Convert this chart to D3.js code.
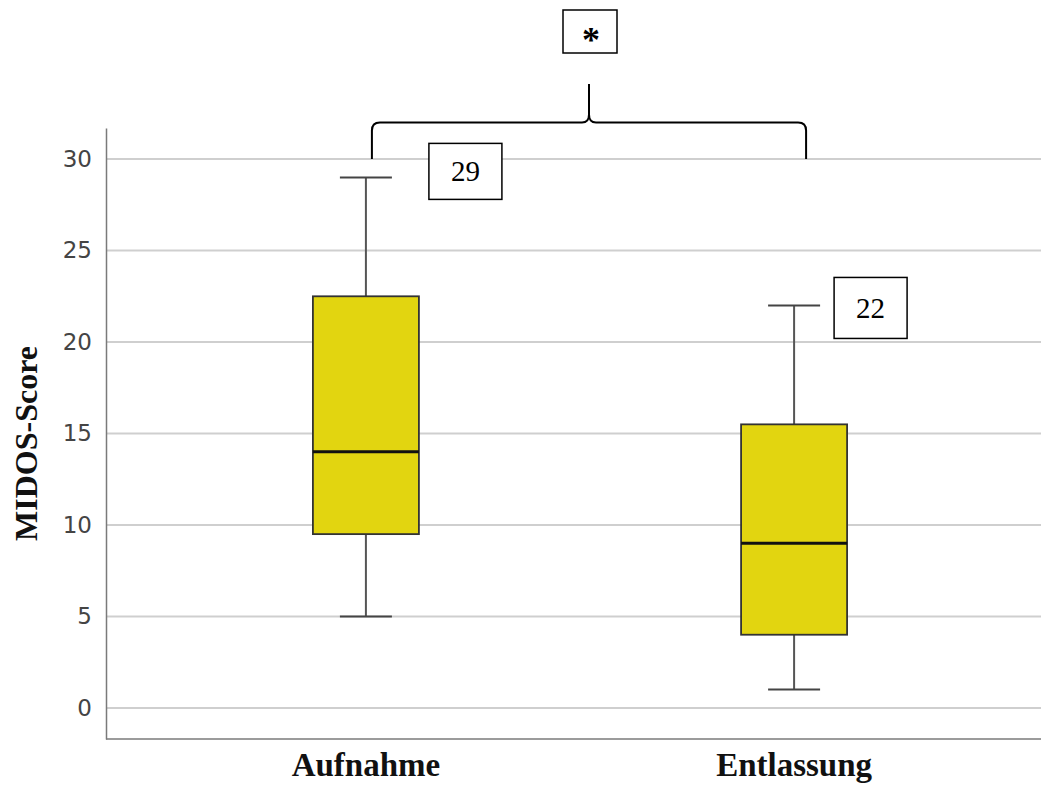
<!DOCTYPE html>
<html>
<head>
<meta charset="utf-8">
<script src="https://cdn.jsdelivr.net/npm/d3@7"></script>
<style>
  html, body { margin: 0; padding: 0; background: #fff; }
  svg { display: block; }
</style>
</head>
<body>
<svg id="chart" width="1041" height="785"></svg>
<script>
// Groups and their five-number summaries (MIDOS-Score)
const groups = ["Aufnahme", "Entlassung"];
const whiskerLow  = [5, 1];
const q1          = [9.5, 4];
const medians     = [14, 9];
const q3          = [22.5, 15.5];
const whiskerHigh = [29, 22];
const yTicks = [0, 5, 10, 15, 20, 25, 30];
const maxLabels = ["29", "22"];
const significance = "*";

const svg = d3.select("#chart");
const plot = { left: 106, right: 1041, top: 128, bottom: 739 };

const x = d3.scalePoint()
  .domain(groups)
  .range([plot.left + 3, plot.right + 10])
  .padding(0.6);

const y = d3.scaleLinear()
  .domain([-1.7, 31.7])
  .range([plot.bottom, plot.top]);

// Horizontal gridlines
svg.append("g")
  .selectAll("line")
  .data(yTicks)
  .join("line")
  .attr("x1", plot.left)
  .attr("x2", plot.right)
  .attr("y1", d => y(d))
  .attr("y2", d => y(d))
  .attr("stroke", "#cfcfcf")
  .attr("stroke-width", 2);

// Y axis
const yAxis = svg.append("g")
  .attr("transform", `translate(${plot.left},0)`)
  .call(d3.axisLeft(y).tickValues(yTicks).tickSize(0).tickPadding(14));
yAxis.select(".domain").attr("stroke", "#7a7a7a").attr("stroke-width", 1.5);
yAxis.selectAll("text")
  .attr("font-family", "'DejaVu Sans', Verdana, sans-serif")
  .attr("font-size", 23)
  .attr("fill", "#444");

// X axis line
svg.append("line")
  .attr("x1", plot.left).attr("x2", plot.right)
  .attr("y1", plot.bottom).attr("y2", plot.bottom)
  .attr("stroke", "#7a7a7a").attr("stroke-width", 1.5);

// Category labels
svg.append("g")
  .selectAll("text")
  .data(groups)
  .join("text")
  .attr("x", d => x(d))
  .attr("y", 776)
  .attr("text-anchor", "middle")
  .attr("font-family", "'Liberation Serif', 'Times New Roman', serif")
  .attr("font-weight", "bold")
  .attr("font-size", 33)
  .attr("fill", "#111")
  .text(d => d);

// Y axis title
svg.append("text")
  .attr("transform", `translate(37,${(346 + 541) / 2}) rotate(-90)`)
  .attr("text-anchor", "middle")
  .attr("font-family", "'Liberation Serif', 'Times New Roman', serif")
  .attr("font-weight", "bold")
  .attr("font-size", 32)
  .attr("fill", "#111")
  .text("MIDOS-Score");

// Box plots
const boxW = 106, capW = 52;
const stats = groups.map((g, i) => ({
  g, lo: whiskerLow[i], q1: q1[i], med: medians[i], q3: q3[i], hi: whiskerHigh[i]
}));

const bp = svg.append("g").selectAll("g").data(stats).join("g");

// whisker stems
bp.append("line")
  .attr("x1", d => x(d.g)).attr("x2", d => x(d.g))
  .attr("y1", d => y(d.hi)).attr("y2", d => y(d.q3))
  .attr("stroke", "#555").attr("stroke-width", 2);
bp.append("line")
  .attr("x1", d => x(d.g)).attr("x2", d => x(d.g))
  .attr("y1", d => y(d.q1)).attr("y2", d => y(d.lo))
  .attr("stroke", "#555").attr("stroke-width", 2);
// whisker caps
bp.selectAll(".cap")
  .data(d => [{g: d.g, v: d.hi}, {g: d.g, v: d.lo}])
  .join("line")
  .attr("class", "cap")
  .attr("x1", d => x(d.g) - capW / 2).attr("x2", d => x(d.g) + capW / 2)
  .attr("y1", d => y(d.v)).attr("y2", d => y(d.v))
  .attr("stroke", "#444").attr("stroke-width", 2);
// boxes
bp.append("rect")
  .attr("x", d => x(d.g) - boxW / 2)
  .attr("width", boxW)
  .attr("y", d => y(d.q3))
  .attr("height", d => y(d.q1) - y(d.q3))
  .attr("fill", "#e2d510")
  .attr("stroke", "#333")
  .attr("stroke-width", 1.8);
// medians
bp.append("line")
  .attr("x1", d => x(d.g) - boxW / 2).attr("x2", d => x(d.g) + boxW / 2)
  .attr("y1", d => y(d.med)).attr("y2", d => y(d.med))
  .attr("stroke", "#111").attr("stroke-width", 3);

// Maximum value call-outs
const calloutDx = [63, 40];
const calloutDy = [-34, -28];
const calloutW = [73, 73], calloutH = [56, 61];
const callouts = svg.append("g").selectAll("g")
  .data(stats.map((d, i) => ({
    ...d, label: maxLabels[i], dx: calloutDx[i], dy: calloutDy[i], w: calloutW[i], h: calloutH[i]
  })))
  .join("g")
  .attr("transform", d => `translate(${x(d.g) + d.dx},${y(d.hi) + d.dy})`);
callouts.append("rect")
  .attr("width", d => d.w).attr("height", d => d.h)
  .attr("fill", "#fff").attr("stroke", "#000").attr("stroke-width", 1.5);
callouts.append("text")
  .attr("x", d => d.w / 2).attr("y", d => d.h / 2 + 10)
  .attr("text-anchor", "middle")
  .attr("font-family", "'Liberation Serif', 'Times New Roman', serif")
  .attr("font-size", 29)
  .attr("fill", "#000")
  .text(d => d.label);

// Significance bracket between the two groups
const xl = x(groups[0]) + 6, xr = x(groups[1]) + 12;
const xm = (xl + xr) / 2;
const yEnd = y(30), yBar = y(32), yTip = y(34.1);
const r = 8;
const bracket = d3.path();
bracket.moveTo(xl, yEnd);
bracket.lineTo(xl, yBar + r);
bracket.quadraticCurveTo(xl, yBar, xl + r, yBar);
bracket.lineTo(xm - 7, yBar);
bracket.quadraticCurveTo(xm, yBar, xm, yBar - r);
bracket.lineTo(xm, yTip);
bracket.moveTo(xm, yBar - r);
bracket.quadraticCurveTo(xm, yBar, xm + 7, yBar);
bracket.lineTo(xr - r, yBar);
bracket.quadraticCurveTo(xr, yBar, xr, yBar + r);
bracket.lineTo(xr, yEnd);
svg.append("path")
  .attr("d", bracket.toString())
  .attr("fill", "none")
  .attr("stroke", "#000")
  .attr("stroke-width", 2);

// Significance marker box
const sigW = 54, sigH = 43;
const sig = svg.append("g").attr("transform", `translate(${xm - 26},10)`);
sig.append("rect")
  .attr("width", sigW).attr("height", sigH)
  .attr("fill", "#fff").attr("stroke", "#000").attr("stroke-width", 1.5);
sig.append("text")
  .attr("x", sigW / 2 + 1).attr("y", 42)
  .attr("text-anchor", "middle")
  .attr("font-family", "'Liberation Serif', 'Times New Roman', serif")
  .attr("font-weight", "bold")
  .attr("font-size", 36)
  .attr("fill", "#000")
  .text(significance);
</script>
</body>
</html>
